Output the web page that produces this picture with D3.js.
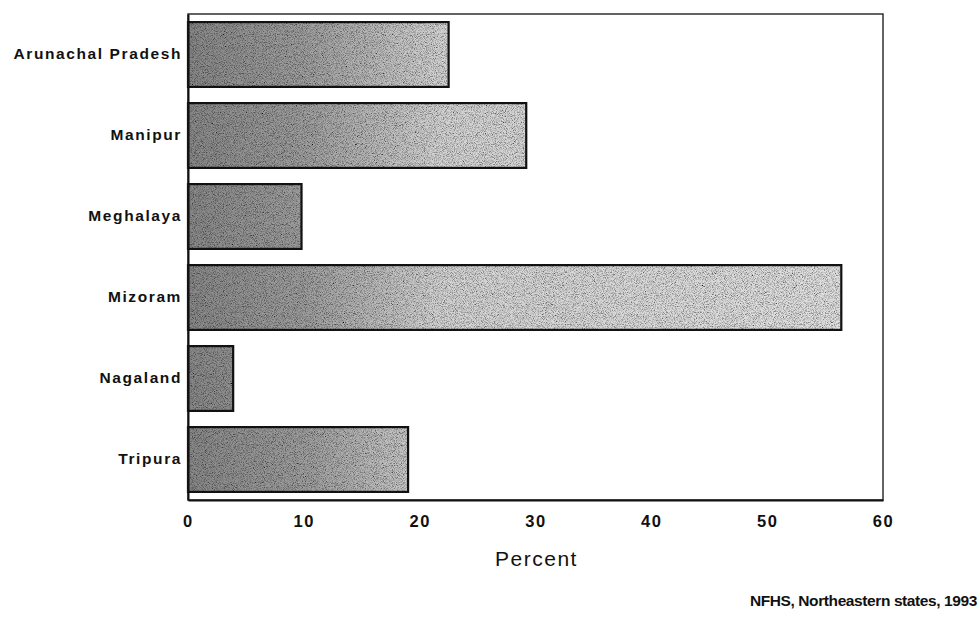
<!DOCTYPE html>
<html>
<head>
<meta charset="utf-8">
<script src="https://cdn.jsdelivr.net/npm/d3@7"></script>
<style>
  html, body { margin: 0; padding: 0; background: #fff; }
  svg { display: block; }
  text { font-family: "Liberation Sans", Arial, Helvetica, sans-serif; fill: #111; }
</style>
</head>
<body>
<svg id="chart" width="980" height="620"></svg>
<script>
// Northeastern states, NFHS 1993
const states = ["Arunachal Pradesh", "Manipur", "Meghalaya", "Mizoram", "Nagaland", "Tripura"];
const percent = [22.5, 29.2, 9.8, 56.4, 3.9, 19.0];
const xTicks = [0, 10, 20, 30, 40, 50, 60];
const xTitle = "Percent";
const sourceNote = "NFHS, Northeastern states, 1993";

const svg = d3.select("#chart");
const plot = { left: 188, right: 883, top: 14, bottom: 500 };

const x = d3.scaleLinear().domain([0, 60]).range([plot.left, plot.right]);
const y = d3.scaleBand().domain(states).range([plot.top, plot.bottom])
  .paddingInner(0.2).paddingOuter(0.1);

const defs = svg.append("defs");

// grey shading, darker near the origin and levelling off further right
const grad = defs.append("linearGradient")
  .attr("id", "barShade")
  .attr("gradientUnits", "userSpaceOnUse")
  .attr("x1", x(0)).attr("x2", x(60)).attr("y1", 0).attr("y2", 0);
[[0, "#888888"], [10, "#9e9e9e"], [22, "#d4d4d4"], [60, "#e2e2e2"]].forEach(([v, c]) =>
  grad.append("stop").attr("offset", (v / 60 * 100) + "%").attr("stop-color", c));

// printed-halftone grain
const grain = defs.append("filter").attr("id", "grain")
  .attr("x", 0).attr("y", 0).attr("width", 1).attr("height", 1);
grain.append("feTurbulence").attr("type", "fractalNoise")
  .attr("baseFrequency", 1.1).attr("numOctaves", 2).attr("seed", 7).attr("result", "noise");
grain.append("feColorMatrix").attr("in", "noise").attr("type", "matrix")
  .attr("values", "2 0 0 0 -0.2  2 0 0 0 -0.2  2 0 0 0 -0.2  0 0 0 0 1")
  .attr("result", "grey");
grain.append("feBlend").attr("in", "SourceGraphic").attr("in2", "grey").attr("mode", "multiply").attr("result", "mix");
grain.append("feComposite").attr("in", "mix").attr("in2", "SourceGraphic").attr("operator", "in");

// bars
const bars = svg.append("g").attr("class", "bars");
bars.selectAll("rect.fill")
  .data(states)
  .join("rect")
  .attr("class", "fill")
  .attr("x", x(0))
  .attr("y", d => y(d))
  .attr("width", (d, i) => x(percent[i]) - x(0))
  .attr("height", y.bandwidth())
  .attr("fill", "url(#barShade)")
  .attr("filter", "url(#grain)");
bars.selectAll("rect.edge")
  .data(states)
  .join("rect")
  .attr("class", "edge")
  .attr("x", x(0))
  .attr("y", d => y(d))
  .attr("width", (d, i) => x(percent[i]) - x(0))
  .attr("height", y.bandwidth())
  .attr("fill", "none")
  .attr("stroke", "#111")
  .attr("stroke-width", 2.2);

// frame
svg.append("rect")
  .attr("x", plot.left).attr("y", plot.top)
  .attr("width", plot.right - plot.left).attr("height", plot.bottom - plot.top)
  .attr("fill", "none").attr("stroke", "#222").attr("stroke-width", 1.4);

// axes
const xAxis = svg.append("g")
  .attr("transform", `translate(0,${plot.bottom})`)
  .call(d3.axisBottom(x).tickValues(xTicks).tickSize(0).tickPadding(15).tickFormat(d3.format("d")));
xAxis.select(".domain").attr("stroke", "#111").attr("stroke-width", 2);
xAxis.selectAll(".tick text")
  .style("font-size", "16.5px").style("font-weight", "bold").style("letter-spacing", "1.6px")
  .attr("fill", "#111");

const yAxis = svg.append("g")
  .attr("transform", `translate(${plot.left},0)`)
  .call(d3.axisLeft(y).tickSize(0).tickPadding(6));
yAxis.select(".domain").attr("stroke", "#111").attr("stroke-width", 2);
yAxis.selectAll(".tick text")
  .style("font-size", "15.5px").style("font-weight", "bold").style("letter-spacing", "1.6px")
  .attr("fill", "#111");

// axis title
svg.append("text")
  .attr("x", (x(0) + x(60)) / 2 + 1)
  .attr("y", 566)
  .attr("text-anchor", "middle")
  .style("font-size", "21px")
  .style("letter-spacing", "1.5px")
  .text(xTitle);

// source note
svg.append("text")
  .attr("x", 977)
  .attr("y", 606)
  .attr("text-anchor", "end")
  .style("font-size", "15.5px")
  .style("font-weight", "bold")
  .style("letter-spacing", "-0.4px")
  .text(sourceNote);
</script>
</body>
</html>
